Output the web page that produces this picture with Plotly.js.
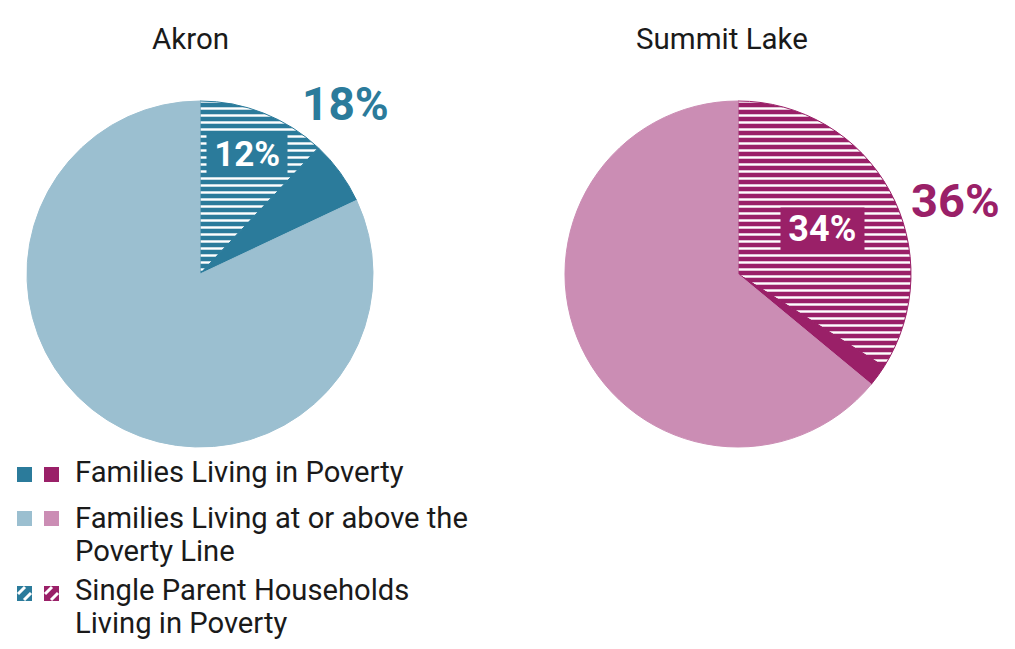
<!DOCTYPE html>
<html>
<head>
<meta charset="utf-8">
<script src="https://cdn.plot.ly/plotly-3.0.1.min.js"></script>
<style>html,body{margin:0;padding:0;background:#fff;}#chart{width:1015px;height:649px;}</style>
</head>
<body>
<div id="chart"></div>
<script>
// ---- data ----
const cityNames = ['Akron', 'Summit Lake'];
const sliceLabels = ['Single Parent Households Living in Poverty', 'Other Families Living in Poverty', 'Families Living at or above the Poverty Line'];
const akronValues = [12, 6, 82];
const summitValues = [34, 2, 64];
const povertyTotals = [18, 36];
const singleParentShares = [12, 34];
const legendLines = [
  ['Families Living in Poverty'],
  ['Families Living at or above the', 'Poverty Line'],
  ['Single Parent Households', 'Living in Poverty']
];

// ---- styles ----
const W = 1015, H = 649;
const px = x => x / W;
const py = y => 1 - y / H;
const blue = {dark: '#2b7b9b', light: '#9bbfd0'};
const mag = {dark: '#9a2068', light: '#cb8db4'};
const FONT = 'Roboto, sans-serif';
const THIN = '&#8201;';

function pieTrace(values, pal, dom) {
  return {
    type: 'pie', values: values, labels: sliceLabels, sort: false,
    direction: 'clockwise', rotation: 0, textinfo: 'none', hoverinfo: 'label+percent',
    showlegend: false,
    domain: dom,
    marker: {
      colors: [pal.dark, pal.dark, pal.light],
      line: {color: [pal.dark, pal.dark, pal.light], width: 1},
      pattern: {shape: ['-', '', ''], fgcolor: ['#ffffff', pal.dark, pal.light],
                bgcolor: [pal.dark, pal.dark, pal.light], size: 7, solidity: 0.35, fillmode: 'replace'}
    }
  };
}

const data = [
  pieTrace(akronValues, blue, {x: [px(27), px(373)], y: [py(447), py(101)]}),
  pieTrace(summitValues, mag, {x: [px(565), px(911)], y: [py(447), py(101)]})
];

const base = {xref: 'paper', yref: 'paper', showarrow: false, xanchor: 'center', yanchor: 'middle'};
const annotations = [];
annotations.push(Object.assign({}, base, {text: cityNames[0], x: px(190), y: py(39), font: {family: FONT, size: 29.5, color: '#1a1a1a'}}));
annotations.push(Object.assign({}, base, {text: cityNames[1], x: px(722), y: py(39), font: {family: FONT, size: 29.5, color: '#1a1a1a'}}));
annotations.push(Object.assign({}, base, {text: '<b>' + povertyTotals[0] + '%</b>', x: px(345.5), y: py(104), font: {family: FONT, size: 46, color: blue.dark}}));
annotations.push(Object.assign({}, base, {text: '<b>' + povertyTotals[1] + '%</b>', x: px(955), y: py(201), font: {family: FONT, size: 47, color: mag.dark}}));
annotations.push(Object.assign({}, base, {text: THIN + '<b>' + singleParentShares[0] + '%</b>' + THIN, x: px(247), y: py(155), font: {family: FONT, size: 35, color: '#ffffff'}, bgcolor: blue.dark, borderpad: 0}));
annotations.push(Object.assign({}, base, {text: THIN + '<b>' + singleParentShares[1] + '%</b>' + THIN, x: px(822), y: py(229), font: {family: FONT, size: 36, color: '#ffffff'}, bgcolor: mag.dark, borderpad: 0}));

// legend
const legendRows = [
  {ytop: 467, lineY: [472], colors: [blue.dark, mag.dark], hatch: false},
  {ytop: 511, lineY: [517.5, 550.5], colors: [blue.light, mag.light], hatch: false},
  {ytop: 586, lineY: [590, 623], colors: [blue.dark, mag.dark], hatch: true}
];
const shapes = [];
const sqX = [17, 44], sq = 15;
legendRows.forEach((r, i) => {
  r.colors.forEach((c, j) => {
    const x0 = sqX[j], y0 = r.ytop;
    shapes.push({type: 'rect', xref: 'paper', yref: 'paper', x0: px(x0), x1: px(x0 + sq), y0: py(y0 + sq), y1: py(y0), fillcolor: c, line: {width: 0}});
    if (r.hatch) {
      const lines = [[x0 + 1, y0 + 8, x0 + 8, y0 + 1], [x0 + 7, y0 + sq - 1, x0 + sq - 1, y0 + 7]];
      lines.forEach(l => shapes.push({type: 'line', xref: 'paper', yref: 'paper', x0: px(l[0]), y0: py(l[1]), x1: px(l[2]), y1: py(l[3]), line: {color: '#ffffff', width: 3}}));
    }
  });
  legendLines[i].forEach((t, k) => {
    annotations.push({text: t, xref: 'paper', yref: 'paper', x: px(73), y: py(r.lineY[k]), xanchor: 'left', yanchor: 'middle', align: 'left', showarrow: false, font: {family: FONT, size: 29.2, color: '#1a1a1a'}});
  });
});

const layout = {
  width: W, height: H, margin: {l: 0, r: 0, t: 0, b: 0},
  paper_bgcolor: '#ffffff', plot_bgcolor: '#ffffff',
  annotations: annotations, shapes: shapes, showlegend: false
};
Plotly.newPlot('chart', data, layout, {displayModeBar: false, staticPlot: true});
</script>
</body>
</html>
